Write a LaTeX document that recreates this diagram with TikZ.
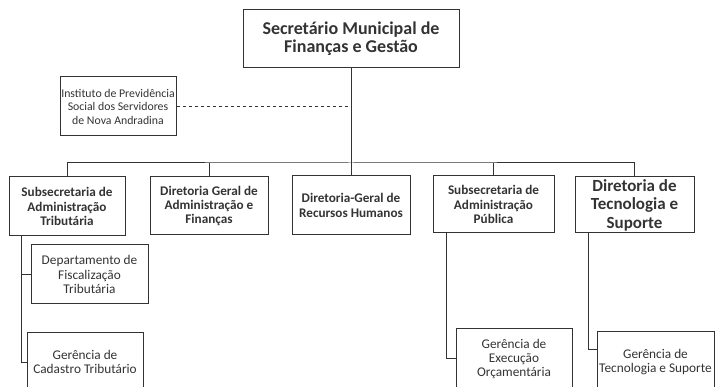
\documentclass[tikz,border=0pt]{standalone}
\usepackage{fontspec}
\setmainfont{Carlito}
\definecolor{tinta}{HTML}{333333}
\begin{document}
\begin{tikzpicture}[x=1pt,y=-1pt,
      caixa/.style={draw=tinta,line width=1pt,text=tinta,inner sep=0pt,align=center},
      chefe/.style={caixa,font=\bfseries\fontsize{18}{18}\selectfont},
      setor/.style={caixa,font=\bfseries\fontsize{13.2}{14.2}\selectfont},
      setorg/.style={caixa,font=\bfseries\fontsize{17}{18.5}\selectfont},
      unidade/.style={caixa,font=\fontsize{13.3}{14.2}\selectfont},
      ligacao/.style={draw=tinta,line width=1pt}]
      \useasboundingbox (0,0) rectangle (715,387);
      \clip (0,0) rectangle (715,387);

      \node[chefe,minimum width=216pt,minimum height=58pt] (sec) at (351,39)
            {Secretário Municipal de\\Finanças e Gestão};
      \node[unidade,font=\fontsize{11.8}{13.5}\selectfont,minimum width=116pt,minimum height=59pt] (ipr) at (118,106.5)
            {Instituto de Previdência\\Social dos Servidores\\de Nova Andradina};

      \node[setor,minimum width=116pt,minimum height=59pt] (sat) at (67,206.5)
            {Subsecretaria de\\Administração\\Tributária};
      \node[setor,minimum width=118pt,minimum height=58pt] (dga) at (209,206)
            {Diretoria Geral de\\Administração e\\Finanças};
      \node[setor,minimum width=118pt,minimum height=59pt] (rh) at (351,205.5)
            {Diretoria-Geral de\\Recursos Humanos};
      \node[setor,minimum width=121pt,minimum height=57pt] (sap) at (493.5,204.5)
            {Subsecretaria de\\Administração\\Pública};
      \node[setorg,minimum width=119pt,minimum height=56pt] (dts) at (634.5,205)
            {Diretoria de\\Tecnologia e\\Suporte};

      \node[unidade,minimum width=117pt,minimum height=59pt] (dft) at (89.5,274.5)
            {Departamento de\\Fiscalização\\Tributária};
      \node[unidade,minimum width=116pt,minimum height=58pt] (gct) at (85,362)
            {Gerência de\\Cadastro Tributário};
      \node[unidade,minimum width=116pt,minimum height=60pt] (gex) at (514,359)
            {Gerência de\\Execução\\Orçamentária};
      \node[unidade,minimum width=117pt,minimum height=60pt] (gts) at (655.5,362)
            {Gerência de\\Tecnologia e Suporte};

      \coordinate (barra) at (351,163);
      \coordinate (sat-tronco) at (21,236);
      \coordinate (sap-tronco) at (446,233);
      \coordinate (dts-tronco) at (588,233);

      \draw[ligacao] (sec) -- (rh);
      \draw[ligacao] (sat.north) |- (barra) -| (dts.north);
      \draw[ligacao] (dga.north) -- (dga.north |- barra);
      \draw[ligacao] (sap.north) -- (sap.north |- barra);
      \draw[ligacao,dashed,line width=0.8pt] (ipr.east) -- (ipr.east -| sec.south);

      \draw[ligacao] (sat-tronco) |- (dft.west);
      \draw[ligacao] (sat-tronco) |- ([yshift=-30pt]gct.north west);
      \draw[ligacao] (sap-tronco) |- (gex.west);
      \draw[ligacao] (dts-tronco) |- ([yshift=-18pt]gts.north west);
\end{tikzpicture}
\end{document}
